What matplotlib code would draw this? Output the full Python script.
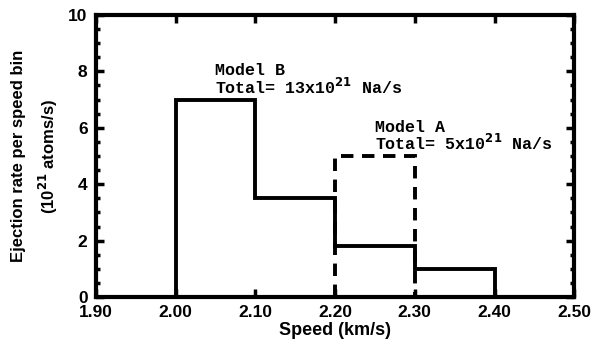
import matplotlib
matplotlib.use('Agg')
import matplotlib.pyplot as plt
from matplotlib.ticker import MultipleLocator

# =========================
# data
# =========================

edges_b = [2.00, 2.10, 2.20, 2.30, 2.40]
rate_b = [7.0, 3.5, 1.8, 1.0]

edges_a = [2.20, 2.30]
rate_a = [5.0]

x_ticks = [1.90, 2.00, 2.10, 2.20, 2.30, 2.40, 2.50]
y_ticks = [0, 2, 4, 6, 8, 10]


# =========================
# plot
# =========================

plt.rcParams['font.family'] = 'Liberation Sans'
plt.rcParams['font.weight'] = 'bold'

fig = plt.figure(figsize=(5.92, 3.47), dpi=100)
ax = fig.add_axes([0.162, 0.144, 0.808, 0.813])

ax.stairs(rate_b, edges_b, baseline=0, color='black', lw=2.8)
ax.stairs(rate_a, edges_a, baseline=0, color='black', lw=2.8,
          linestyle=(0, (3.2, 2.2)))

ax.set_xlim(1.9, 2.5)
ax.set_ylim(0, 10)
ax.set_xticks(x_ticks)
ax.set_xticklabels(['{:.2f}'.format(v) for v in x_ticks])
ax.set_yticks(y_ticks)
ax.yaxis.set_minor_locator(MultipleLocator(0.5))

for s in ax.spines.values():
    s.set_linewidth(3)
ax.tick_params(which='both', direction='in', top=True, right=True,
               width=2.5, labelsize=12.5, pad=6)
ax.tick_params(which='major', length=6)
ax.tick_params(which='minor', length=3)

ax.set_xlabel('Speed (km/s)', fontsize=13, fontweight='bold', labelpad=1)
ax.set_ylabel('Ejection rate per speed bin\n(10$^{\\mathbf{21}}$ atoms/s)',
              fontsize=12, fontweight='bold', linespacing=1.6, labelpad=6)

ax.text(2.049, 7.1, 'Model B\nTotal= 13x10$^{\\mathbf{21}}$ Na/s',
        family='Liberation Mono', fontsize=12, fontweight='bold',
        va='bottom', ha='left', linespacing=0.9)
ax.text(2.25, 5.1, 'Model A\nTotal= 5x10$^{\\mathbf{21}}$ Na/s',
        family='Liberation Mono', fontsize=12, fontweight='bold',
        va='bottom', ha='left', linespacing=0.9)

fig.savefig('out.png', dpi=100)
plt.close('all')
